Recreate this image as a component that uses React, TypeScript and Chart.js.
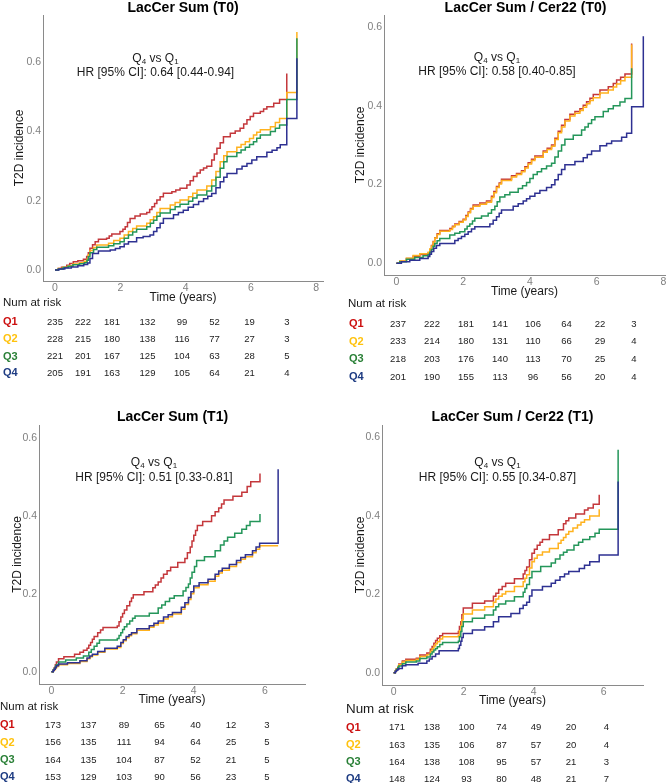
import React, { useEffect, useRef } from "react";
import { Chart, registerables } from "chart.js";
Chart.register(...registerables);

const FONT = '"Liberation Sans", Arial, Helvetica, sans-serif';
const groups = ["Q1", "Q2", "Q3", "Q4"];
const lineColors = ["#C4373B", "#FFB21E", "#24965A", "#2E3192"];
const labelColors = ["#CC1010", "#FFC20E", "#2A8037", "#1D3B82"];
const xTicksT0 = [0, 2, 4, 6, 8];
const xTicksT1 = [0, 2, 4, 6];
const yTicks = [0, 0.2, 0.4, 0.6];

// ---- LacCer Sum (T0) ----
const sumT0_Q1_time = [0, 0.1, 0.2, 0.36, 0.45, 0.56, 0.7, 0.87, 0.97, 1.02, 1.07, 1.15, 1.23, 1.33, 1.58, 1.66, 1.74, 1.99, 2.08, 2.15, 2.22, 2.3, 2.45, 2.61, 2.81, 2.9, 2.97, 3.05, 3.12, 3.22, 3.32, 3.58, 3.7, 3.83, 4.04, 4.14, 4.24, 4.35, 4.45, 4.55, 4.65, 4.8, 4.88, 4.96, 5.06, 5.16, 5.37, 5.52, 5.67, 5.78, 5.88, 5.98, 6.08, 6.29, 6.39, 6.49, 6.7, 6.88, 7.1];
const sumT0_Q1_inc = [0, 0.004, 0.008, 0.014, 0.019, 0.024, 0.027, 0.031, 0.039, 0.05, 0.063, 0.073, 0.082, 0.089, 0.092, 0.098, 0.104, 0.111, 0.118, 0.125, 0.137, 0.149, 0.156, 0.162, 0.166, 0.175, 0.183, 0.192, 0.202, 0.212, 0.222, 0.226, 0.231, 0.236, 0.246, 0.258, 0.27, 0.28, 0.289, 0.295, 0.3, 0.318, 0.335, 0.352, 0.368, 0.385, 0.395, 0.402, 0.41, 0.422, 0.434, 0.444, 0.453, 0.458, 0.465, 0.472, 0.482, 0.493, 0.568];
const sumT0_Q2_time = [0, 0.1, 0.25, 0.4, 0.55, 0.75, 0.9, 0.98, 1.02, 1.07, 1.18, 1.28, 1.64, 1.8, 1.99, 2.12, 2.25, 2.38, 2.5, 2.81, 2.92, 3.02, 3.12, 3.22, 3.53, 3.68, 3.83, 4.09, 4.22, 4.35, 4.65, 4.8, 4.93, 5.06, 5.17, 5.27, 5.57, 5.7, 5.83, 5.96, 6.08, 6.18, 6.29, 6.6, 6.75, 6.88, 7.1, 7.41];
const sumT0_Q2_inc = [0, 0.004, 0.008, 0.012, 0.017, 0.021, 0.025, 0.032, 0.044, 0.056, 0.065, 0.072, 0.077, 0.085, 0.092, 0.101, 0.111, 0.12, 0.127, 0.135, 0.145, 0.154, 0.166, 0.178, 0.188, 0.195, 0.202, 0.212, 0.222, 0.231, 0.243, 0.26, 0.285, 0.313, 0.33, 0.342, 0.355, 0.363, 0.371, 0.38, 0.39, 0.398, 0.405, 0.414, 0.426, 0.438, 0.513, 0.688];
const sumT0_Q3_time = [0, 0.1, 0.25, 0.4, 0.55, 0.75, 0.9, 0.98, 1.02, 1.07, 1.18, 1.28, 1.64, 1.8, 1.99, 2.12, 2.25, 2.38, 2.5, 2.81, 2.92, 3.02, 3.12, 3.22, 3.53, 3.68, 3.83, 4.09, 4.22, 4.35, 4.65, 4.8, 4.93, 5.06, 5.17, 5.27, 5.57, 5.7, 5.83, 5.96, 6.08, 6.18, 6.29, 6.6, 6.75, 6.88, 7.1, 7.41];
const sumT0_Q3_inc = [0, 0.003, 0.007, 0.011, 0.015, 0.018, 0.021, 0.028, 0.038, 0.05, 0.059, 0.066, 0.07, 0.076, 0.082, 0.092, 0.101, 0.11, 0.118, 0.125, 0.135, 0.144, 0.155, 0.165, 0.175, 0.183, 0.19, 0.199, 0.208, 0.217, 0.228, 0.243, 0.268, 0.294, 0.313, 0.328, 0.339, 0.347, 0.355, 0.363, 0.371, 0.381, 0.39, 0.4, 0.41, 0.419, 0.493, 0.67];
const sumT0_Q4_time = [0, 0.12, 0.3, 0.5, 0.7, 0.88, 1.0, 1.07, 1.15, 1.33, 1.69, 1.85, 1.99, 2.12, 2.25, 2.5, 2.7, 2.91, 3.02, 3.12, 3.22, 3.32, 3.63, 3.78, 3.93, 4.08, 4.24, 4.4, 4.55, 4.68, 4.8, 4.93, 5.06, 5.17, 5.27, 5.57, 5.73, 5.88, 6.03, 6.18, 6.49, 6.65, 6.8, 6.9, 7.1, 7.41];
const sumT0_Q4_inc = [0, 0.003, 0.006, 0.009, 0.012, 0.016, 0.02, 0.033, 0.048, 0.055, 0.058, 0.062, 0.067, 0.075, 0.082, 0.093, 0.097, 0.101, 0.111, 0.122, 0.135, 0.149, 0.16, 0.166, 0.173, 0.181, 0.189, 0.198, 0.206, 0.213, 0.221, 0.238, 0.255, 0.268, 0.279, 0.292, 0.3, 0.308, 0.318, 0.327, 0.34, 0.346, 0.353, 0.362, 0.438, 0.612];

// ---- LacCer Sum / Cer22 (T0) ----
const ratioT0_Q1_time = [0, 0.1, 0.3, 0.5, 0.7, 0.95, 1.0, 1.05, 1.1, 1.15, 1.22, 1.3, 1.6, 1.68, 1.75, 1.88, 2.0, 2.08, 2.15, 2.22, 2.3, 2.5, 2.7, 2.85, 2.92, 3.0, 3.08, 3.15, 3.45, 3.6, 3.75, 3.85, 3.95, 4.05, 4.15, 4.4, 4.52, 4.65, 4.75, 4.85, 4.95, 5.05, 5.2, 5.35, 5.5, 5.6, 5.7, 5.8, 5.9, 6.1, 6.35, 6.5, 6.6, 6.72, 6.85, 7.05];
const ratioT0_Q1_inc = [0, 0.005, 0.012, 0.018, 0.022, 0.026, 0.035, 0.045, 0.055, 0.065, 0.075, 0.083, 0.088, 0.094, 0.1, 0.106, 0.112, 0.121, 0.13, 0.139, 0.148, 0.153, 0.158, 0.17, 0.182, 0.195, 0.204, 0.213, 0.222, 0.228, 0.235, 0.245, 0.255, 0.264, 0.272, 0.285, 0.292, 0.3, 0.317, 0.335, 0.35, 0.365, 0.378, 0.385, 0.392, 0.401, 0.41, 0.419, 0.428, 0.44, 0.448, 0.456, 0.465, 0.472, 0.48, 0.558];
const ratioT0_Q2_time = [0, 0.1, 0.3, 0.5, 0.7, 0.95, 1.0, 1.05, 1.1, 1.15, 1.22, 1.3, 1.6, 1.68, 1.75, 1.88, 2.0, 2.08, 2.15, 2.22, 2.3, 2.5, 2.7, 2.85, 2.92, 3.0, 3.08, 3.15, 3.45, 3.6, 3.75, 3.85, 3.95, 4.05, 4.15, 4.4, 4.52, 4.65, 4.75, 4.85, 4.95, 5.05, 5.2, 5.35, 5.5, 5.6, 5.7, 5.8, 5.9, 6.1, 6.35, 6.5, 6.6, 6.72, 6.85, 7.05];
const ratioT0_Q2_inc = [0, 0.006, 0.013, 0.02, 0.024, 0.028, 0.036, 0.044, 0.054, 0.064, 0.073, 0.081, 0.086, 0.092, 0.098, 0.104, 0.11, 0.119, 0.128, 0.137, 0.145, 0.15, 0.155, 0.167, 0.179, 0.192, 0.201, 0.21, 0.219, 0.225, 0.232, 0.242, 0.252, 0.261, 0.269, 0.282, 0.289, 0.297, 0.314, 0.331, 0.346, 0.361, 0.374, 0.381, 0.388, 0.396, 0.405, 0.413, 0.42, 0.432, 0.44, 0.447, 0.455, 0.463, 0.472, 0.555];
const ratioT0_Q3_time = [0, 0.1, 0.3, 0.55, 0.8, 0.95, 1.0, 1.05, 1.1, 1.15, 1.22, 1.3, 1.6, 1.75, 1.9, 2.05, 2.12, 2.2, 2.28, 2.35, 2.55, 2.75, 2.85, 2.95, 3.02, 3.1, 3.25, 3.4, 3.65, 3.78, 3.9, 4.0, 4.1, 4.22, 4.35, 4.5, 4.65, 4.75, 4.85, 4.95, 5.05, 5.3, 5.55, 5.65, 5.75, 5.85, 5.95, 6.2, 6.35, 6.5, 6.7, 6.85, 7.05];
const ratioT0_Q3_inc = [0, 0.004, 0.01, 0.015, 0.019, 0.022, 0.028, 0.035, 0.043, 0.05, 0.057, 0.063, 0.072, 0.076, 0.08, 0.087, 0.094, 0.1, 0.107, 0.114, 0.12, 0.127, 0.136, 0.145, 0.156, 0.168, 0.174, 0.18, 0.19, 0.197, 0.205, 0.215, 0.225, 0.232, 0.24, 0.247, 0.254, 0.27, 0.285, 0.3, 0.315, 0.325, 0.338, 0.346, 0.355, 0.364, 0.372, 0.385, 0.392, 0.4, 0.409, 0.418, 0.495];
const ratioT0_Q4_time = [0, 0.15, 0.4, 0.7, 0.95, 1.0, 1.05, 1.12, 1.2, 1.3, 1.75, 1.85, 1.95, 2.05, 2.15, 2.25, 2.35, 2.8, 2.9, 3.0, 3.08, 3.15, 3.5, 3.65, 3.8, 3.9, 4.0, 4.15, 4.3, 4.5, 4.65, 4.75, 4.85, 4.95, 5.05, 5.35, 5.6, 5.72, 5.85, 6.1, 6.3, 6.45, 6.75, 6.9, 7.05, 7.4];
const ratioT0_Q4_inc = [0, 0.004, 0.008, 0.012, 0.017, 0.023, 0.03, 0.038, 0.045, 0.05, 0.058, 0.063, 0.068, 0.074, 0.08, 0.087, 0.093, 0.1, 0.109, 0.118, 0.127, 0.135, 0.145, 0.151, 0.158, 0.164, 0.17, 0.178, 0.185, 0.192, 0.199, 0.212, 0.225, 0.238, 0.25, 0.258, 0.268, 0.276, 0.285, 0.298, 0.304, 0.31, 0.32, 0.33, 0.397, 0.576];

// ---- LacCer Sum (T1) ----
const sumT1_Q1_time = [0, 0.05, 0.08, 0.11, 0.14, 0.2, 0.35, 0.65, 0.8, 0.9, 1.0, 1.05, 1.1, 1.15, 1.2, 1.3, 1.38, 1.45, 1.85, 1.9, 1.95, 2.0, 2.05, 2.12, 2.2, 2.25, 2.3, 2.6, 2.85, 2.92, 3.0, 3.08, 3.15, 3.25, 3.35, 3.55, 3.75, 3.82, 3.9, 3.95, 4.0, 4.05, 4.1, 4.25, 4.5, 4.6, 4.7, 4.78, 4.85, 5.1, 5.35, 5.5, 5.6, 5.86];
const sumT1_Q1_inc = [0, 0.005, 0.01, 0.018, 0.025, 0.033, 0.038, 0.045, 0.05, 0.055, 0.06, 0.068, 0.075, 0.083, 0.09, 0.1, 0.107, 0.113, 0.117, 0.128, 0.14, 0.149, 0.158, 0.169, 0.18, 0.189, 0.197, 0.205, 0.215, 0.222, 0.23, 0.24, 0.25, 0.259, 0.268, 0.28, 0.29, 0.305, 0.32, 0.335, 0.35, 0.362, 0.375, 0.385, 0.4, 0.41, 0.42, 0.43, 0.44, 0.45, 0.46, 0.475, 0.487, 0.508];
const sumT1_Q2_time = [0, 0.05, 0.08, 0.11, 0.14, 0.2, 0.45, 0.8, 1.0, 1.08, 1.15, 1.3, 1.5, 1.85, 1.95, 2.02, 2.1, 2.18, 2.25, 2.4, 2.75, 2.88, 3.0, 3.15, 3.28, 3.4, 3.65, 3.75, 3.85, 3.92, 4.0, 4.15, 4.4, 4.6, 4.7, 4.8, 5.0, 5.2, 5.32, 5.45, 5.65, 5.75, 5.85, 6.37];
const sumT1_Q2_inc = [0, 0.003, 0.005, 0.009, 0.013, 0.018, 0.021, 0.026, 0.033, 0.038, 0.043, 0.05, 0.058, 0.062, 0.072, 0.079, 0.087, 0.092, 0.097, 0.106, 0.114, 0.12, 0.125, 0.135, 0.141, 0.148, 0.16, 0.172, 0.185, 0.2, 0.215, 0.223, 0.232, 0.245, 0.253, 0.26, 0.27, 0.28, 0.288, 0.295, 0.305, 0.314, 0.323, 0.323];
const sumT1_Q3_time = [0, 0.05, 0.08, 0.11, 0.14, 0.2, 0.4, 0.7, 0.9, 1.05, 1.12, 1.2, 1.28, 1.35, 1.85, 1.9, 1.95, 2.0, 2.05, 2.12, 2.2, 2.28, 2.35, 2.75, 3.0, 3.1, 3.2, 3.32, 3.45, 3.7, 3.78, 3.85, 3.9, 3.95, 4.02, 4.08, 4.3, 4.6, 4.75, 4.85, 4.95, 5.15, 5.35, 5.48, 5.58, 5.86];
const sumT1_Q3_inc = [0, 0.004, 0.008, 0.013, 0.018, 0.025, 0.03, 0.035, 0.04, 0.05, 0.057, 0.065, 0.073, 0.081, 0.085, 0.093, 0.1, 0.108, 0.115, 0.122, 0.13, 0.137, 0.143, 0.15, 0.163, 0.171, 0.18, 0.188, 0.195, 0.207, 0.216, 0.225, 0.24, 0.255, 0.27, 0.285, 0.295, 0.31, 0.325, 0.335, 0.345, 0.355, 0.365, 0.375, 0.385, 0.404];
const sumT1_Q4_time = [0, 0.05, 0.08, 0.11, 0.14, 0.2, 0.45, 0.8, 1.0, 1.08, 1.15, 1.3, 1.5, 1.85, 1.95, 2.02, 2.1, 2.18, 2.25, 2.4, 2.75, 2.88, 3.0, 3.15, 3.28, 3.4, 3.65, 3.75, 3.85, 3.92, 4.0, 4.15, 4.4, 4.6, 4.7, 4.8, 5.0, 5.2, 5.32, 5.45, 5.65, 5.75, 5.85, 6.37];
const sumT1_Q4_inc = [0, 0.003, 0.006, 0.011, 0.015, 0.02, 0.023, 0.028, 0.035, 0.04, 0.045, 0.052, 0.06, 0.065, 0.075, 0.082, 0.09, 0.095, 0.1, 0.11, 0.118, 0.124, 0.13, 0.14, 0.146, 0.152, 0.165, 0.177, 0.19, 0.205, 0.22, 0.228, 0.237, 0.25, 0.258, 0.265, 0.275, 0.285, 0.293, 0.3, 0.31, 0.32, 0.329, 0.519];

// ---- LacCer Sum / Cer22 (T1) ----
const ratioT1_Q1_time = [0, 0.05, 0.08, 0.12, 0.15, 0.25, 0.35, 0.65, 0.75, 0.95, 1.05, 1.1, 1.15, 1.2, 1.25, 1.32, 1.4, 1.85, 1.88, 1.92, 1.95, 1.99, 2.25, 2.6, 2.85, 2.92, 3.0, 3.1, 3.2, 3.45, 3.7, 3.75, 3.8, 3.88, 3.95, 4.02, 4.1, 4.18, 4.25, 4.45, 4.7, 4.85, 4.92, 5.0, 5.2, 5.45, 5.55, 5.7, 5.87];
const ratioT1_Q1_inc = [0, 0.005, 0.01, 0.016, 0.022, 0.03, 0.034, 0.037, 0.045, 0.05, 0.06, 0.067, 0.075, 0.082, 0.088, 0.094, 0.1, 0.105, 0.118, 0.13, 0.148, 0.165, 0.177, 0.183, 0.195, 0.203, 0.212, 0.22, 0.228, 0.24, 0.252, 0.261, 0.27, 0.288, 0.305, 0.315, 0.325, 0.333, 0.34, 0.352, 0.365, 0.38, 0.388, 0.395, 0.405, 0.415, 0.42, 0.43, 0.454];
const ratioT1_Q2_time = [0, 0.05, 0.08, 0.12, 0.15, 0.25, 0.35, 0.65, 0.75, 0.95, 1.05, 1.1, 1.15, 1.2, 1.25, 1.32, 1.4, 1.85, 1.88, 1.92, 1.95, 1.99, 2.25, 2.6, 2.85, 2.92, 3.0, 3.1, 3.2, 3.45, 3.7, 3.75, 3.8, 3.88, 3.95, 4.02, 4.1, 4.25, 4.45, 4.7, 4.78, 4.85, 4.92, 5.0, 5.12, 5.25, 5.35, 5.45, 5.6, 5.87];
const ratioT1_Q2_inc = [0, 0.004, 0.009, 0.015, 0.02, 0.027, 0.031, 0.034, 0.041, 0.046, 0.055, 0.061, 0.068, 0.074, 0.079, 0.086, 0.092, 0.095, 0.107, 0.12, 0.135, 0.15, 0.16, 0.168, 0.18, 0.188, 0.195, 0.201, 0.207, 0.22, 0.232, 0.241, 0.25, 0.267, 0.283, 0.292, 0.3, 0.308, 0.317, 0.33, 0.338, 0.345, 0.353, 0.36, 0.369, 0.377, 0.384, 0.39, 0.4, 0.417];
const ratioT1_Q3_time = [0, 0.05, 0.08, 0.12, 0.15, 0.25, 0.35, 0.65, 0.75, 0.95, 1.05, 1.1, 1.15, 1.2, 1.25, 1.32, 1.4, 1.85, 1.88, 1.92, 1.95, 1.99, 2.25, 2.6, 2.85, 2.92, 3.0, 3.2, 3.45, 3.7, 3.75, 3.8, 3.88, 3.95, 4.2, 4.5, 4.62, 4.75, 4.85, 4.95, 5.15, 5.28, 5.4, 5.6, 5.75, 5.87, 6.41];
const ratioT1_Q3_inc = [0, 0.004, 0.008, 0.013, 0.017, 0.023, 0.027, 0.03, 0.036, 0.04, 0.048, 0.053, 0.058, 0.062, 0.066, 0.072, 0.077, 0.08, 0.092, 0.105, 0.118, 0.13, 0.139, 0.147, 0.16, 0.168, 0.175, 0.183, 0.194, 0.205, 0.215, 0.225, 0.242, 0.258, 0.271, 0.28, 0.29, 0.3, 0.307, 0.313, 0.325, 0.333, 0.34, 0.347, 0.356, 0.366, 0.569];
const ratioT1_Q4_time = [0, 0.05, 0.08, 0.12, 0.15, 0.25, 0.35, 0.7, 0.95, 1.02, 1.1, 1.2, 1.3, 1.85, 1.88, 1.92, 1.95, 1.99, 2.25, 2.6, 2.85, 3.0, 3.35, 3.6, 3.7, 3.8, 3.88, 3.95, 4.25, 4.5, 4.62, 4.75, 4.88, 5.0, 5.3, 5.45, 5.6, 5.87, 6.41];
const ratioT1_Q4_inc = [0, 0.003, 0.006, 0.009, 0.011, 0.018, 0.02, 0.024, 0.03, 0.035, 0.041, 0.048, 0.056, 0.062, 0.07, 0.08, 0.09, 0.1, 0.109, 0.117, 0.13, 0.143, 0.151, 0.164, 0.172, 0.18, 0.196, 0.211, 0.22, 0.228, 0.236, 0.245, 0.252, 0.258, 0.266, 0.274, 0.283, 0.3, 0.488];

// ---- Numbers at risk ----
const riskSumT0 = [
  [235, 222, 181, 132, 99, 52, 19, 3],
  [228, 215, 180, 138, 116, 77, 27, 3],
  [221, 201, 167, 125, 104, 63, 28, 5],
  [205, 191, 163, 129, 105, 64, 21, 4],
];
const riskRatioT0 = [
  [237, 222, 181, 141, 106, 64, 22, 3],
  [233, 214, 180, 131, 110, 66, 29, 4],
  [218, 203, 176, 140, 113, 70, 25, 4],
  [201, 190, 155, 113, 96, 56, 20, 4],
];
const riskSumT1 = [
  [173, 137, 89, 65, 40, 12, 3],
  [156, 135, 111, 94, 64, 25, 5],
  [164, 135, 104, 87, 52, 21, 5],
  [153, 129, 103, 90, 56, 23, 5],
];
const riskRatioT1 = [
  [171, 138, 100, 74, 49, 20, 4],
  [163, 135, 106, 87, 57, 20, 4],
  [164, 138, 108, 95, 57, 21, 3],
  [148, 124, 93, 80, 48, 21, 7],
];

type Curve = { time: number[]; inc: number[] };
type Panel = {
  title: string;
  hr: string;
  curves: Curve[];
  risk: number[][];
  xMin: number; xMax: number; yMin: number; yMax: number; xTicks: number[];
  plot: { l: number; t: number; r: number; b: number };
  xAxisH: number;
  yTitleX: number;
  titleX: number; titleY: number;
  annX: number; annY1: number; annY2: number;
  numY: number; numX: number; numFont: number;
  labelX: number; rowsY: number[]; colsX: number[];
};

const panels: Panel[] = [
  {
    title: "LacCer Sum (T0)", hr: "HR [95% CI]: 0.64 [0.44-0.94]",
    curves: [
      { time: sumT0_Q1_time, inc: sumT0_Q1_inc },
      { time: sumT0_Q2_time, inc: sumT0_Q2_inc },
      { time: sumT0_Q3_time, inc: sumT0_Q3_inc },
      { time: sumT0_Q4_time, inc: sumT0_Q4_inc },
    ],
    risk: riskSumT0,
    xMin: -0.368, xMax: 8.21, yMin: -0.0318, yMax: 0.737, xTicks: xTicksT0,
    plot: { l: 43, t: 15, r: 323, b: 281 }, xAxisH: 24, yTitleX: 20,
    titleX: 183, titleY: 7, annX: 155.5, annY1: 59, annY2: 72,
    numY: 303.3, numX: 3, numFont: 11.5, labelX: 3,
    rowsY: [321, 338, 355.5, 372], colsX: [55, 83, 112, 147.5, 182, 214.5, 249.5, 287],
  },
  {
    title: "LacCer Sum / Cer22 (T0)", hr: "HR [95% CI]: 0.58 [0.40-0.85]",
    curves: [
      { time: ratioT0_Q1_time, inc: ratioT0_Q1_inc },
      { time: ratioT0_Q2_time, inc: ratioT0_Q2_inc },
      { time: ratioT0_Q3_time, inc: ratioT0_Q3_inc },
      { time: ratioT0_Q4_time, inc: ratioT0_Q4_inc },
    ],
    risk: riskRatioT0,
    xMin: -0.372, xMax: 8.05, yMin: -0.0297, yMax: 0.63, xTicks: xTicksT0,
    plot: { l: 384, t: 15, r: 665, b: 275 }, xAxisH: 24, yTitleX: 360.7,
    titleX: 525.5, titleY: 7, annX: 497, annY1: 58.3, annY2: 71,
    numY: 304.3, numX: 348, numFont: 11.5, labelX: 349,
    rowsY: [323.3, 340.7, 358.3, 376], colsX: [398, 432, 466, 500, 533, 566.5, 600, 634],
  },
  {
    title: "LacCer Sum (T1)", hr: "HR [95% CI]: 0.51 [0.33-0.81]",
    curves: [
      { time: sumT1_Q1_time, inc: sumT1_Q1_inc },
      { time: sumT1_Q2_time, inc: sumT1_Q2_inc },
      { time: sumT1_Q3_time, inc: sumT1_Q3_inc },
      { time: sumT1_Q4_time, inc: sumT1_Q4_inc },
    ],
    risk: riskSumT1,
    xMin: -0.349, xMax: 7.125, yMin: -0.0316, yMax: 0.6325, xTicks: xTicksT1,
    plot: { l: 39, t: 425, r: 305, b: 684 }, xAxisH: 23, yTitleX: 18,
    titleX: 172.5, titleY: 416, annX: 154, annY1: 462.5, annY2: 477.3,
    numY: 706.7, numX: 0, numFont: 11.5, labelX: 0,
    rowsY: [724.3, 741.7, 759, 776], colsX: [53, 88.5, 124, 159.5, 195.5, 231, 267],
  },
  {
    title: "LacCer Sum / Cer22 (T1)", hr: "HR [95% CI]: 0.55 [0.34-0.87]",
    curves: [
      { time: ratioT1_Q1_time, inc: ratioT1_Q1_inc },
      { time: ratioT1_Q2_time, inc: ratioT1_Q2_inc },
      { time: ratioT1_Q3_time, inc: ratioT1_Q3_inc },
      { time: ratioT1_Q4_time, inc: ratioT1_Q4_inc },
    ],
    risk: riskRatioT1,
    xMin: -0.33, xMax: 7.12, yMin: -0.0314, yMax: 0.632, xTicks: xTicksT1,
    plot: { l: 382, t: 425, r: 643, b: 685 }, xAxisH: 23, yTitleX: 360.7,
    titleX: 512.5, titleY: 416, annX: 497.5, annY1: 463.3, annY2: 477.3,
    numY: 709, numX: 346, numFont: 13.4, labelX: 346,
    rowsY: [726.7, 744, 761, 778.3], colsX: [397, 432, 466.5, 501.5, 536, 571, 606.5],
  },
];

const Y_AXIS_W = 38;
const PAD_TOP = 10;
const PAD_RIGHT = 6;
const Y_TITLE_FONT = 12;

function KMChart({ p }: { p: Panel }) {
  const ref = useRef<HTMLCanvasElement>(null);
  const left = p.plot.l - Y_AXIS_W;
  const top = p.plot.t - PAD_TOP;
  const width = p.plot.r - p.plot.l + Y_AXIS_W + PAD_RIGHT;
  const height = p.plot.b - p.plot.t + PAD_TOP + p.xAxisH;

  useEffect(() => {
    const canvas = ref.current!;
    const yTitlePad = p.yTitleX - left - (Y_TITLE_FONT * 1.2) / 2;
    const chart = new Chart(canvas, {
      type: "line",
      data: {
        datasets: p.curves.map((c, i) => ({
          label: groups[i],
          data: c.time.map((t, j) => ({ x: t, y: c.inc[j] })),
          borderColor: lineColors[i],
          backgroundColor: lineColors[i],
          borderWidth: 1.5,
          pointRadius: 0,
          stepped: "before" as const,
          fill: false,
          order: 4 - i,
        })),
      },
      options: {
        animation: false,
        responsive: false,
        maintainAspectRatio: false,
        devicePixelRatio: 1,
        events: [],
        layout: { padding: { top: PAD_TOP, right: PAD_RIGHT, left: 0, bottom: 0 } },
        plugins: { legend: { display: false }, tooltip: { enabled: false }, title: { display: false } },
        scales: {
          x: {
            type: "linear",
            min: p.xMin,
            max: p.xMax,
            afterBuildTicks: (s: any) => { s.ticks = p.xTicks.map((v) => ({ value: v })); },
            afterFit: (s: any) => { s.height = p.xAxisH; },
            grid: { display: false, drawTicks: false },
            border: { display: true, color: "#8a8a8a", width: 1 },
            ticks: { color: "#808080", font: { size: 10.5, family: FONT }, padding: 1, maxRotation: 0, callback: (v: any) => String(v) },
            title: { display: true, text: "Time (years)", color: "#1a1a1a", font: { size: 12, family: FONT }, padding: { top: 0, bottom: 0 } },
          },
          y: {
            type: "linear",
            min: p.yMin,
            max: p.yMax,
            afterBuildTicks: (s: any) => { s.ticks = yTicks.map((v) => ({ value: v })); },
            afterFit: (s: any) => { s.width = Y_AXIS_W; },
            grid: { display: false, drawTicks: false },
            border: { display: true, color: "#8a8a8a", width: 1 },
            ticks: { color: "#808080", font: { size: 10.5, family: FONT }, padding: 2, callback: (v: any) => Number(v).toFixed(1) },
            title: { display: true, text: "T2D incidence", color: "#1a1a1a", font: { size: Y_TITLE_FONT, family: FONT }, padding: { top: yTitlePad, bottom: 0 } },
          },
        },
      },
    } as any);
    return () => chart.destroy();
  }, []);

  return (
    <canvas
      ref={ref}
      width={width}
      height={height}
      style={{ position: "absolute", left, top, width, height }}
    />
  );
}

const centered = (x: number, y: number): React.CSSProperties => ({
  position: "absolute",
  left: x,
  top: y,
  transform: "translate(-50%, -50%)",
  whiteSpace: "nowrap",
  lineHeight: 1,
});

function PanelView({ p }: { p: Panel }) {
  return (
    <>
      <KMChart p={p} />
      <div style={{ ...centered(p.titleX, p.titleY), fontSize: 14, fontWeight: "bold", color: "#000" }}>{p.title}</div>
      <div style={{ ...centered(p.annX, p.annY1), fontSize: 12, color: "#1a1a1a" }}>
        Q<sub style={{ fontSize: 8, verticalAlign: "-2px" }}>4</sub> vs Q<sub style={{ fontSize: 8, verticalAlign: "-2px" }}>1</sub>
      </div>
      <div style={{ ...centered(p.annX, p.annY2), fontSize: 12, color: "#1a1a1a" }}>{p.hr}</div>
      <div style={{ position: "absolute", left: p.numX, top: p.numY, transform: "translateY(-50%)", fontSize: p.numFont, color: "#1a1a1a", whiteSpace: "nowrap", lineHeight: 1 }}>
        Num at risk
      </div>
      {groups.map((g, i) => (
        <React.Fragment key={g}>
          <div style={{ position: "absolute", left: p.labelX, top: p.rowsY[i], transform: "translateY(-50%)", fontSize: 11, fontWeight: "bold", color: labelColors[i], lineHeight: 1 }}>
            {g}
          </div>
          {p.risk[i].map((n, j) => (
            <div key={j} style={{ ...centered(p.colsX[j], p.rowsY[i] + 0.5), fontSize: 9.5, color: "#222" }}>{n}</div>
          ))}
        </React.Fragment>
      ))}
    </>
  );
}

export default function App() {
  return (
    <div style={{ position: "absolute", left: 0, top: 0, width: 669, height: 783, background: "#fff", fontFamily: FONT, overflow: "hidden" }}>
      {panels.map((p) => (
        <PanelView key={p.title} p={p} />
      ))}
    </div>
  );
}
